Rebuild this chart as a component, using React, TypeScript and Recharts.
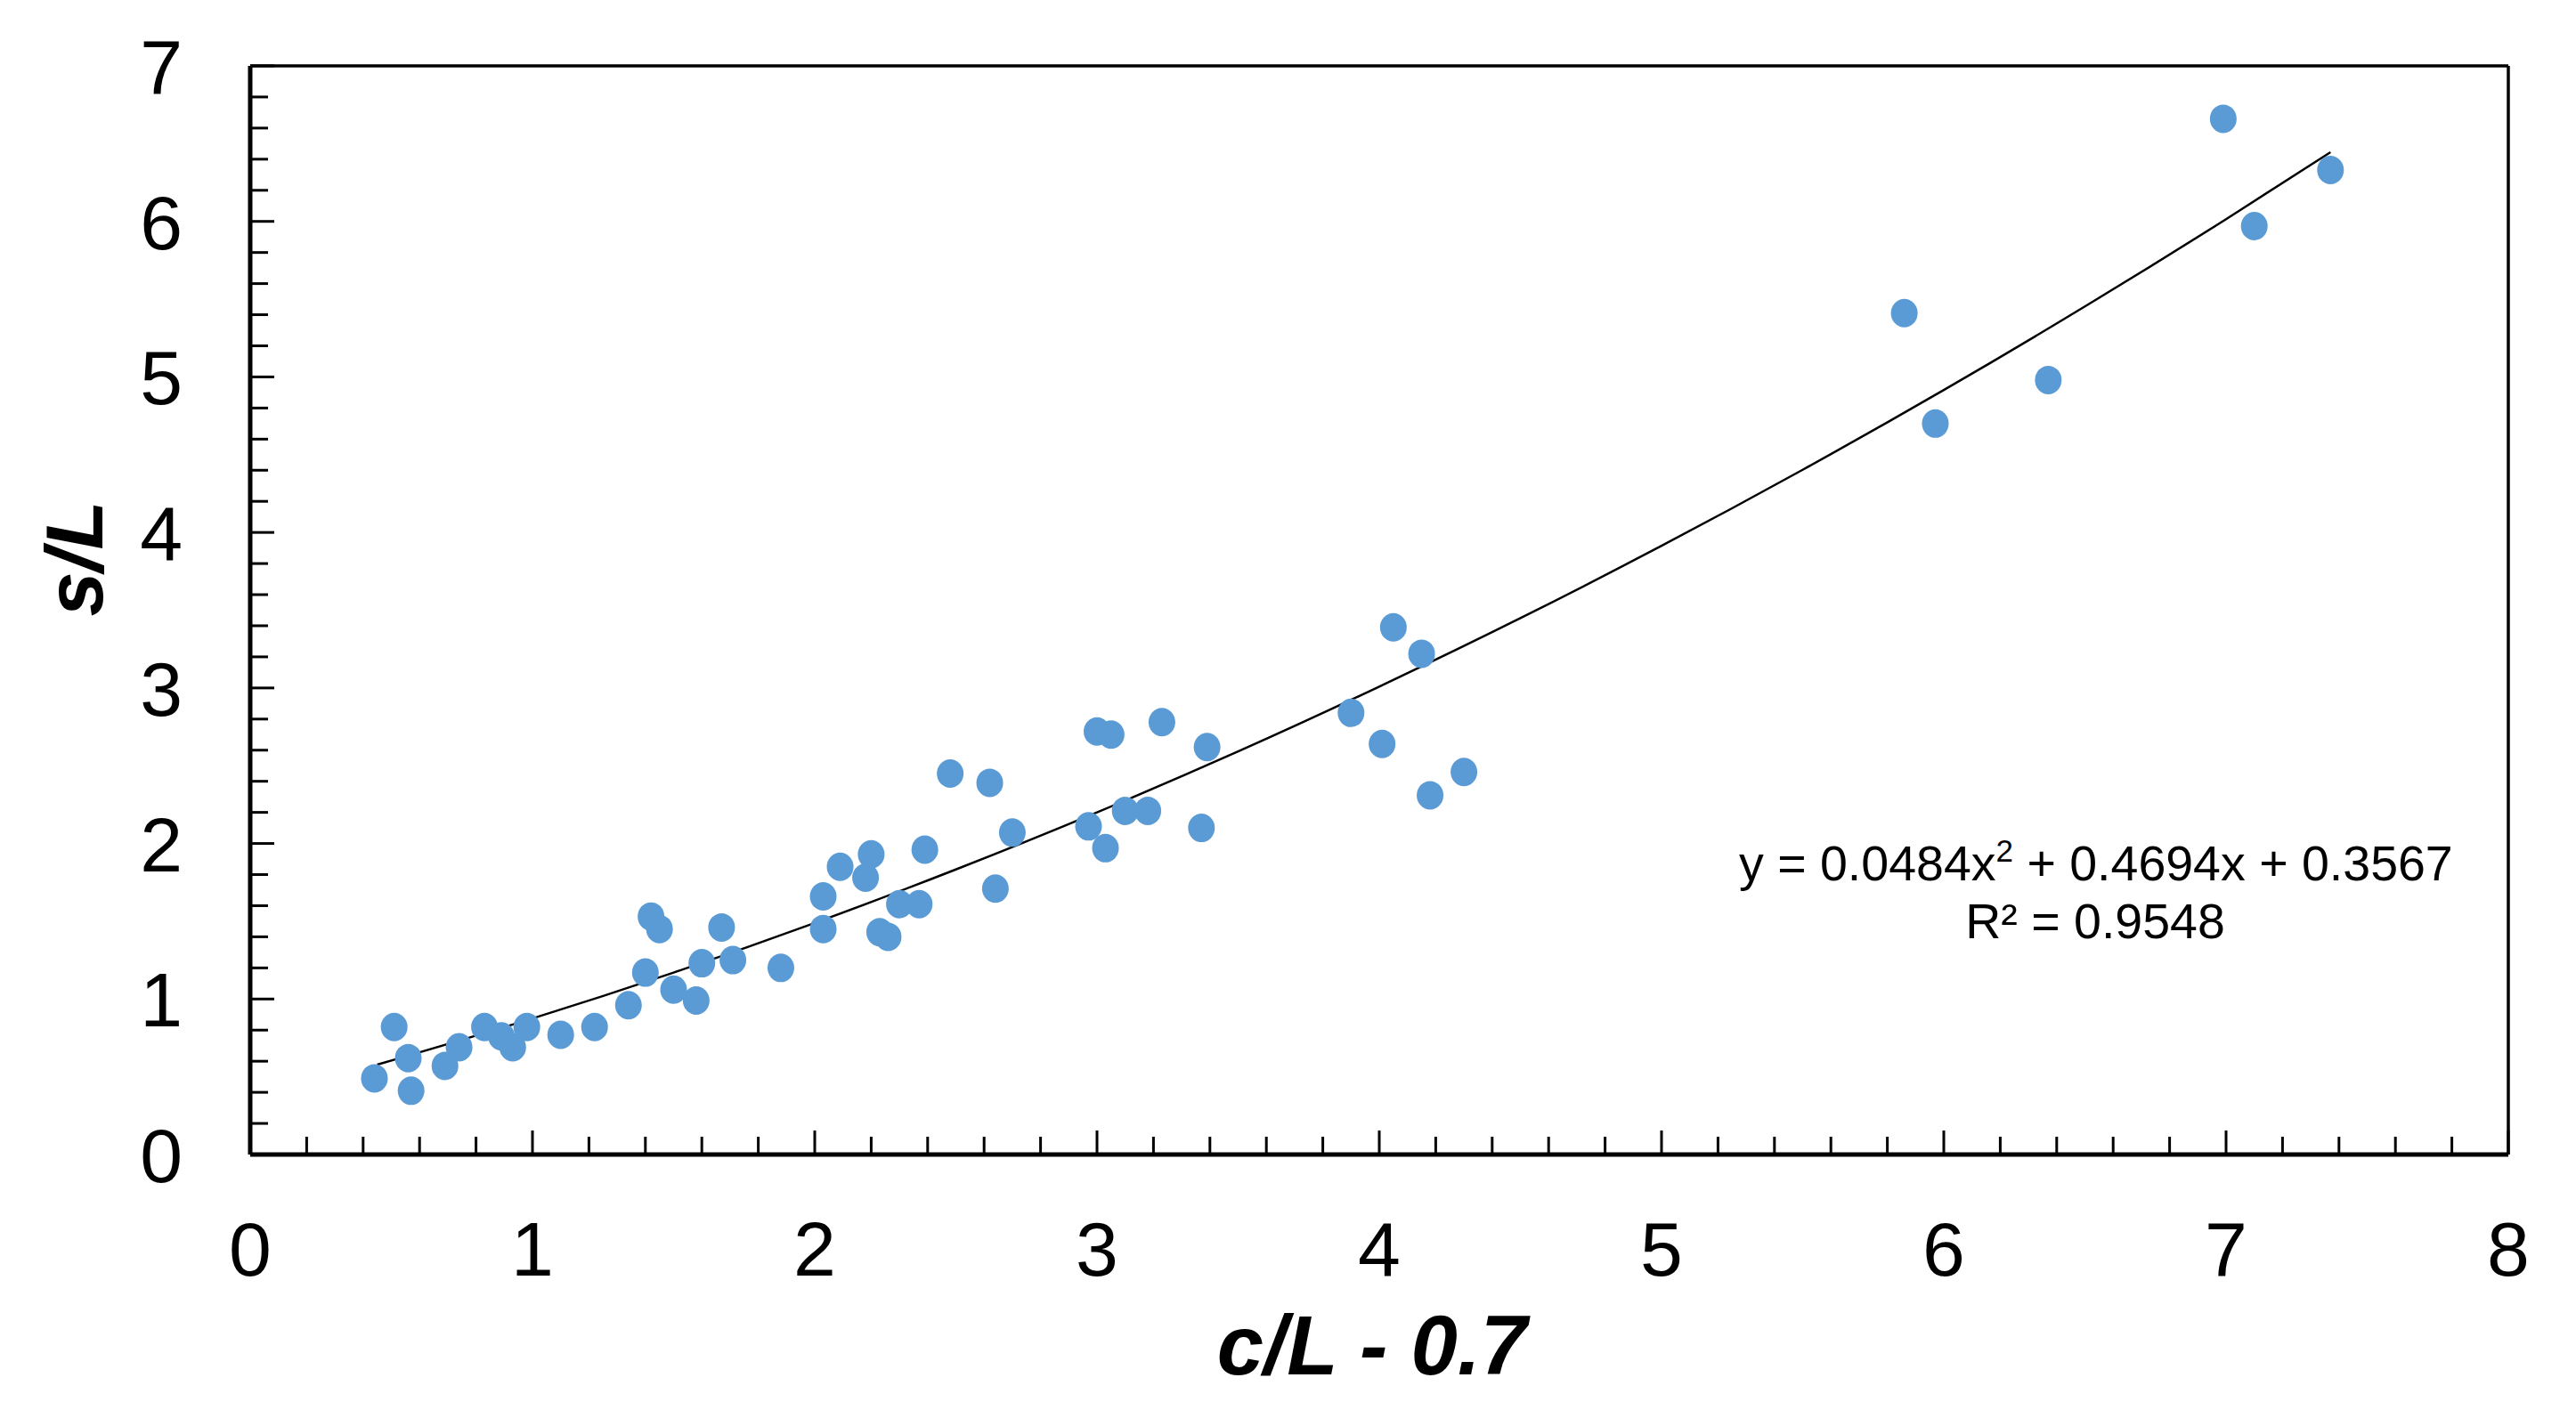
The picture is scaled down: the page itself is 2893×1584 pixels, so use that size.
import { ComposedChart, Label, Line, ReferenceLine, Scatter, XAxis, YAxis } from "recharts";

// measured points: c/L - 0.7 vs s/L
const cL = [
  0.44, 0.51, 0.56, 0.57, 0.69, 0.74, 0.83, 0.89, 0.93, 0.98,
  1.1, 1.22, 1.34, 1.4, 1.42, 1.45, 1.5, 1.58, 1.6, 1.67,
  1.71, 1.88, 2.03, 2.03, 2.09, 2.18, 2.2, 2.23, 2.26, 2.3,
  2.37, 2.39, 2.48, 2.62, 2.64, 2.7, 2.97, 3.0, 3.05, 3.03,
  3.1, 3.18, 3.23, 3.37, 3.39, 3.9, 4.01, 4.05, 4.15, 4.18,
  4.3, 5.86, 5.97, 6.37, 6.99, 7.1, 7.37,
];
const sL = [
  0.49, 0.82, 0.62, 0.41, 0.57, 0.69, 0.82, 0.76, 0.69, 0.82,
  0.77, 0.82, 0.96, 1.17, 1.53, 1.45, 1.06, 0.99, 1.23, 1.46,
  1.25, 1.2, 1.66, 1.45, 1.85, 1.78, 1.93, 1.43, 1.4, 1.61,
  1.61, 1.96, 2.45, 2.39, 1.71, 2.07, 2.11, 2.72, 2.7, 1.97,
  2.21, 2.21, 2.78, 2.1, 2.62, 2.84, 2.64, 3.39, 3.22, 2.31,
  2.46, 5.41, 4.7, 4.98, 6.66, 5.97, 6.33,
];

// polynomial trend line as drawn
const trendX = [0.45, 1, 1.5, 2, 2.5, 3, 3.5, 4, 4.5, 5, 5.5, 6, 6.5, 7, 7.37];
const trendY = [0.578, 0.875, 1.17, 1.489, 1.833, 2.2, 2.592, 3.009, 3.449, 3.914, 4.403, 4.916, 5.453, 6.014, 6.445];

const xMajorTicks = [0, 1, 2, 3, 4, 5, 6, 7, 8];
const yMajorTicks = [0, 1, 2, 3, 4, 5, 6, 7];
const minorStep = 0.2;

const equationText = "y = 0.0484x";
const equationRest = " + 0.4694x + 0.3567";
const r2Text = "R² = 0.9548";

const FONT = '"Liberation Sans", Arial, Helvetica, sans-serif';
const DOT = "#5B9BD5";

const withMinor = (major: number[]) =>
  major
    .slice(0, -1)
    .flatMap((m) => [0, 1, 2, 3, 4].map((k) => +(m + k * minorStep).toFixed(1)))
    .concat(major[major.length - 1]);

const xTicks = withMinor(xMajorTicks);
const yTicks = withMinor(yMajorTicks);

const points = cL.map((x, i) => ({ x, y: sL[i] }));
const trend = trendX.map((x, i) => ({ x, y: trendY[i] }));

const isMajor = (v: number) => Math.abs(v - Math.round(v)) < 1e-6;

const XTick = (props: any) => {
  const { x, y, payload } = props;
  const major = isMajor(payload.value);
  return (
    <g>
      <line x1={x} y1={y} x2={x} y2={y - (major ? 27 : 20)} stroke="#000" strokeWidth={3} />
      {major && (
        <text x={x} y={y + 136} textAnchor="middle" fontSize={86} fontFamily={FONT} fill="#000">
          {Math.round(payload.value)}
        </text>
      )}
    </g>
  );
};

const YTick = (props: any) => {
  const { x, y, payload } = props;
  const major = isMajor(payload.value);
  return (
    <g>
      <line x1={x} y1={y} x2={x + (major ? 27 : 20)} y2={y} stroke="#000" strokeWidth={3} />
      {major && (
        <text x={x - 76} y={y + 31} textAnchor="end" fontSize={86} fontFamily={FONT} fill="#000">
          {Math.round(payload.value)}
        </text>
      )}
    </g>
  );
};

const Dot = (props: any) => <ellipse cx={props.cx} cy={props.cy} rx={15} ry={16} fill={DOT} />;

export default function App() {
  return (
    <div style={{ position: "absolute", left: 0, top: 0, width: 2893, height: 1584, background: "#fff" }}>
      <ComposedChart
        width={2893}
        height={1584}
        data={points}
        margin={{ top: 74, right: 76, left: 181, bottom: 187 }}
      >
        <XAxis
          dataKey="x"
          type="number"
          domain={[0, 8]}
          ticks={xTicks}
          interval={0}
          height={100}
          tickSize={0}
          tickMargin={0}
          tickLine={false}
          tick={<XTick />}
          axisLine={{ stroke: "#000", strokeWidth: 5 }}
        >
          <Label
            content={({ viewBox }: any) => (
              <text
                x={viewBox.x + viewBox.width / 2 - 8}
                y={viewBox.y + 247}
                textAnchor="middle"
                fontSize={94}
                fontWeight="bold"
                fontStyle="italic"
                fontFamily={FONT}
                fill="#000"
              >
                c/L - 0.7
              </text>
            )}
          />
        </XAxis>
        <YAxis
          dataKey="y"
          type="number"
          domain={[0, 7]}
          ticks={yTicks}
          interval={0}
          width={100}
          tickSize={0}
          tickMargin={0}
          tickLine={false}
          tick={<YTick />}
          axisLine={{ stroke: "#000", strokeWidth: 5 }}
        >
          <Label
            content={({ viewBox }: any) => {
              const cx = viewBox.x - 66;
              const cy = viewBox.y + viewBox.height / 2 - 58;
              return (
                <text
                  x={cx}
                  y={cy}
                  transform={`rotate(-90 ${cx} ${cy})`}
                  textAnchor="middle"
                  fontSize={90}
                  fontWeight="bold"
                  fontStyle="italic"
                  fontFamily={FONT}
                  fill="#000"
                >
                  s/L
                </text>
              );
            }}
          />
        </YAxis>
        <ReferenceLine y={7} stroke="#000" strokeWidth={3.5} />
        <ReferenceLine x={8} stroke="#000" strokeWidth={3.5} />
        <Scatter data={points} dataKey="y" shape={<Dot />} isAnimationActive={false} />
        <Line
          data={trend}
          dataKey="y"
          type="monotone"
          stroke="#000"
          strokeWidth={2.5}
          dot={false}
          activeDot={false}
          isAnimationActive={false}
        />
      </ComposedChart>
      <div
        style={{
          position: "absolute",
          left: 1953,
          top: 938,
          width: 800,
          textAlign: "center",
          fontFamily: FONT,
          fontSize: 55.5,
          lineHeight: "65px",
          color: "#000",
          whiteSpace: "nowrap",
        }}
      >
        <div>
          {equationText}
          <sup style={{ fontSize: 35, lineHeight: 0, verticalAlign: "21px" }}>2</sup>
          {equationRest}
        </div>
        <div>{r2Text}</div>
      </div>
    </div>
  );
}
